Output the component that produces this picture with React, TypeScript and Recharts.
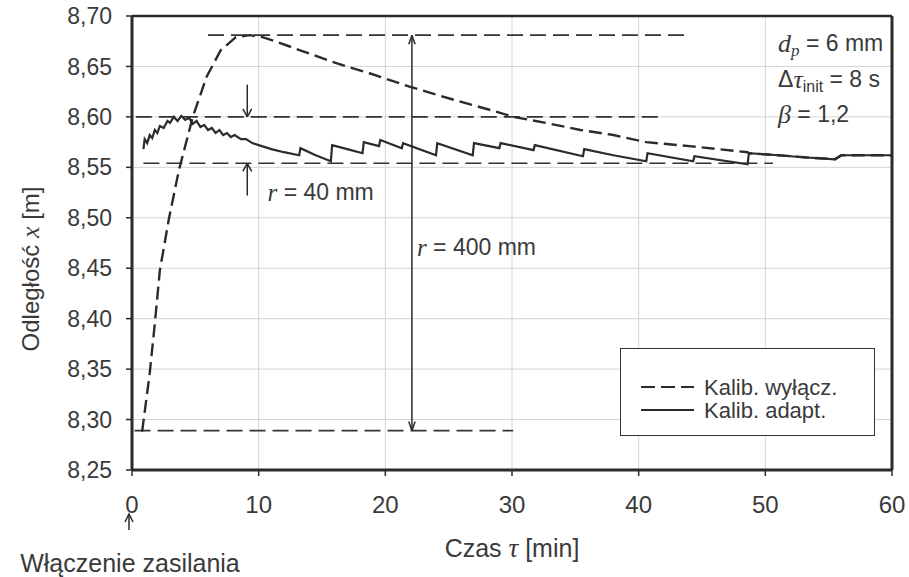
import React from "react";
import {
  CartesianGrid,
  Legend,
  Line,
  LineChart,
  ReferenceDot,
  ReferenceLine,
  XAxis,
  YAxis,
} from "recharts";

// Kalib. adapt. (solid)
const adaptTime = [
  0.9, 1.0, 1.2, 1.4, 1.6, 1.8, 2.0, 2.2, 2.5, 2.8, 3.0, 3.3, 3.6, 3.9, 4.2,
  4.5, 4.8, 5.1, 5.4, 5.7, 6.0, 6.3, 6.6, 6.9, 7.2, 7.5, 7.8, 8.1, 8.6, 9.0,
  9.5, 10.0, 10.5, 11.0, 12.0, 13.2, 13.3, 14.5, 15.7, 15.8, 17.0, 18.2, 18.3,
  19.5, 19.6, 21.3, 21.4, 24.0, 24.1, 26.9, 27.0, 29.0, 29.1, 31.7, 31.8, 35.6,
  35.7, 38.0, 40.6, 40.7, 44.3, 44.4, 48.6, 48.7, 51.0, 53.0, 55.5, 56.0, 58.0,
  60.0,
];
const adaptValue = [
  8.568, 8.578, 8.574, 8.582, 8.579, 8.587, 8.584, 8.591, 8.589, 8.596, 8.594,
  8.6, 8.596, 8.601, 8.597, 8.599, 8.593, 8.596, 8.59, 8.592, 8.587, 8.589,
  8.584, 8.587, 8.582, 8.584, 8.58, 8.582, 8.578, 8.578, 8.574, 8.572, 8.57,
  8.568, 8.565, 8.562, 8.569, 8.562, 8.556, 8.572, 8.568, 8.564, 8.575, 8.571,
  8.577, 8.569, 8.574, 8.562, 8.574, 8.562, 8.574, 8.569, 8.574, 8.567, 8.572,
  8.561, 8.568, 8.562, 8.556, 8.564, 8.556, 8.561, 8.553, 8.564, 8.562, 8.56,
  8.558, 8.562, 8.562, 8.562,
];

// Kalib. wyłącz. (dashed)
const offTime = [
  0.8, 1.4, 1.8, 2.2, 2.9, 3.7, 4.8, 5.9, 7.0, 8.2, 9.3, 10.3, 11.3, 13.5, 16.2,
  18.8, 21.9, 25.4, 28.8, 30.1, 32.7, 35.4, 38.0, 40.6, 44.0, 48.6, 48.7, 51.0,
  53.0, 55.5, 56.0, 58.0, 60.0,
];
const offValue = [
  8.288, 8.346, 8.395, 8.448, 8.498, 8.547, 8.6, 8.64, 8.666, 8.679, 8.681,
  8.679, 8.675, 8.665, 8.653, 8.643, 8.63, 8.617, 8.605, 8.6, 8.594, 8.587,
  8.582, 8.575, 8.571, 8.565, 8.564, 8.562, 8.56, 8.558, 8.562, 8.562, 8.562,
];

const xTicks = [0, 10, 20, 30, 40, 50, 60];
const yTicks = [8.25, 8.3, 8.35, 8.4, 8.45, 8.5, 8.55, 8.6, 8.65, 8.7];

// dashed helper lines [x1, x2, y]
const guideLines = [
  [6, 44, 8.681],
  [0.3, 41.8, 8.6],
  [0.9, 50.6, 8.554],
  [0.2, 30.1, 8.289],
];

// solid annotation segments [x1, y1, x2, y2]
const markSegments = [
  [22.1, 8.681, 22.1, 8.289],
  [21.85, 8.672, 22.1, 8.681],
  [22.35, 8.672, 22.1, 8.681],
  [21.85, 8.298, 22.1, 8.289],
  [22.35, 8.298, 22.1, 8.289],
  [9.1, 8.632, 9.1, 8.6],
  [8.75, 8.608, 9.1, 8.6],
  [9.45, 8.608, 9.1, 8.6],
  [9.1, 8.522, 9.1, 8.554],
  [8.75, 8.546, 9.1, 8.554],
  [9.45, 8.546, 9.1, 8.554],
];

const adaptData = adaptTime.map((t, i) => ({ t, x: adaptValue[i] }));
const offData = offTime.map((t, i) => ({ t, x: offValue[i] }));

const FONT = "'Liberation Sans', Arial, sans-serif";
const SERIF = "'Liberation Serif', serif";
const INK = "#2b2b2b";
const TXT = "#3a3a3a";

const fmt = (v: number) => v.toFixed(2).replace(".", ",");

const AnnotText = (props: any) => {
  const { viewBox, kind } = props;
  const x = viewBox.x;
  const y = viewBox.y;
  const base = { fontFamily: FONT, fontSize: 23, fill: TXT };
  if (kind === "r40" || kind === "r400") {
    return (
      <text x={x} y={y} dominantBaseline="central" {...base}>
        <tspan fontFamily={SERIF} fontStyle="italic" fontSize={25}>
          r
        </tspan>
        <tspan>{kind === "r40" ? " = 40 mm" : " = 400 mm"}</tspan>
      </text>
    );
  }
  if (kind === "dp") {
    return (
      <text x={x} y={y} dominantBaseline="central" {...base}>
        <tspan fontFamily={SERIF} fontStyle="italic" fontSize={26}>
          d
        </tspan>
        <tspan fontFamily={SERIF} fontStyle="italic" fontSize={17} dy={7}>
          p
        </tspan>
        <tspan dy={-7}> = 6 mm</tspan>
      </text>
    );
  }
  if (kind === "dt") {
    return (
      <text x={x} y={y} dominantBaseline="central" {...base}>
        <tspan>Δ</tspan>
        <tspan fontFamily={SERIF} fontStyle="italic" fontSize={26}>
          τ
        </tspan>
        <tspan fontSize={16} dy={7}>
          init
        </tspan>
        <tspan dy={-7}> = 8 s</tspan>
      </text>
    );
  }
  return (
    <text x={x} y={y} dominantBaseline="central" {...base}>
      <tspan fontFamily={SERIF} fontStyle="italic" fontSize={26}>
        β
      </tspan>
      <tspan>{"  = 1,2"}</tspan>
    </text>
  );
};

const YLabel = (props: any) => {
  const { viewBox } = props;
  const cx = 30;
  const cy = viewBox.y + viewBox.height / 2 + 26;
  return (
    <text
      x={cx}
      y={cy}
      transform={`rotate(-90 ${cx} ${cy})`}
      textAnchor="middle"
      dominantBaseline="central"
      fontFamily={FONT}
      fontSize={24}
      fill={TXT}
    >
      <tspan>Odległość </tspan>
      <tspan fontFamily={SERIF} fontStyle="italic" fontSize={26}>
        x
      </tspan>
      <tspan>{"  [m]"}</tspan>
    </text>
  );
};

const XLabel = (props: any) => {
  const { viewBox } = props;
  const x0 = viewBox.x;
  const y0 = viewBox.y;
  return (
    <g>
      <text
        x={x0 + 380}
        y={y0 + 78}
        textAnchor="middle"
        dominantBaseline="central"
        fontFamily={FONT}
        fontSize={25}
        fill={TXT}
      >
        <tspan>Czas </tspan>
        <tspan fontFamily={SERIF} fontStyle="italic" fontSize={27}>
          τ
        </tspan>
        <tspan>{"  [min]"}</tspan>
      </text>
      <line x1={x0 - 3} y1={y0 + 60} x2={x0 - 3} y2={y0 + 45} stroke={INK} strokeWidth={1.5} />
      <path
        d={`M ${x0 - 7} ${y0 + 52} L ${x0 - 3} ${y0 + 44} L ${x0 + 1} ${y0 + 52}`}
        fill="none"
        stroke={INK}
        strokeWidth={1.5}
      />
      <text
        x={x0 - 2}
        y={y0 + 93}
        textAnchor="middle"
        dominantBaseline="central"
        fontFamily={FONT}
        fontSize={25}
        fill={TXT}
      >
        Włączenie zasilania
      </text>
    </g>
  );
};

const LegendBox = () => (
  <div
    style={{
      width: 255,
      height: 88,
      border: "1.5px solid #333",
      background: "#fff",
      boxSizing: "border-box",
      position: "relative",
    }}
  >
    <svg width={255} height={88} style={{ position: "absolute", left: 0, top: 0 }}>
      <line x1={20} y1={38} x2={73} y2={38} stroke={INK} strokeWidth={2} strokeDasharray="14 6" />
      <line x1={20} y1={61} x2={73} y2={61} stroke={INK} strokeWidth={2} />
      <text x={83} y={38} dominantBaseline="central" fontFamily={FONT} fontSize={22} fill={TXT}>
        Kalib. wyłącz.
      </text>
      <text x={83} y={61} dominantBaseline="central" fontFamily={FONT} fontSize={22} fill={TXT}>
        Kalib. adapt.
      </text>
    </svg>
  </div>
);

export default function App() {
  return (
    <div style={{ position: "absolute", left: 0, top: 0, background: "#fff" }}>
      <LineChart
        width={909}
        height={577}
        margin={{ top: 16, right: 17, bottom: 0, left: 0 }}
      >
        <CartesianGrid stroke="#d4d4d4" strokeWidth={1} />
        <XAxis
          dataKey="t"
          type="number"
          domain={[0, 60]}
          ticks={xTicks}
          height={107}
          allowDataOverflow
          axisLine={{ stroke: INK, strokeWidth: 3 }}
          tickLine={{ stroke: INK, strokeWidth: 1.5 }}
          tickSize={6}
          tickMargin={20}
          tick={{ fontFamily: FONT, fontSize: 24, fill: TXT }}
          label={<XLabel />}
        />
        <YAxis
          type="number"
          domain={[8.25, 8.7]}
          ticks={yTicks}
          width={132}
          allowDataOverflow
          tickFormatter={fmt}
          axisLine={{ stroke: INK, strokeWidth: 3 }}
          tickLine={{ stroke: INK, strokeWidth: 1.5 }}
          tickSize={6}
          tickMargin={14}
          tick={{ fontFamily: FONT, fontSize: 23, fill: TXT }}
          label={<YLabel />}
        />
        <ReferenceLine y={8.7} stroke={INK} strokeWidth={2.5} />
        <ReferenceLine x={60} stroke={INK} strokeWidth={3} />
        {guideLines.map(([x1, x2, y], i) => (
          <ReferenceLine
            key={`g${i}`}
            segment={[
              { x: x1, y },
              { x: x2, y },
            ]}
            stroke="#333"
            strokeWidth={1.6}
            strokeDasharray="16 7"
          />
        ))}
        {markSegments.map(([x1, y1, x2, y2], i) => (
          <ReferenceLine
            key={`m${i}`}
            segment={[
              { x: x1, y: y1 },
              { x: x2, y: y2 },
            ]}
            stroke={INK}
            strokeWidth={1.5}
          />
        ))}
        <Line
          data={offData}
          dataKey="x"
          type="linear"
          stroke={INK}
          strokeWidth={2.4}
          strokeDasharray="13 6"
          dot={false}
          isAnimationActive={false}
          name="Kalib. wyłącz."
        />
        <Line
          data={adaptData}
          dataKey="x"
          type="linear"
          stroke={INK}
          strokeWidth={2.2}
          dot={false}
          isAnimationActive={false}
          name="Kalib. adapt."
        />
        <ReferenceDot x={10.7} y={8.526} r={0} label={<AnnotText kind="r40" />} />
        <ReferenceDot x={22.5} y={8.471} r={0} label={<AnnotText kind="r400" />} />
        <ReferenceDot x={51} y={8.673} r={0} label={<AnnotText kind="dp" />} />
        <ReferenceDot x={51} y={8.638} r={0} label={<AnnotText kind="dt" />} />
        <ReferenceDot x={51} y={8.603} r={0} label={<AnnotText kind="beta" />} />
        <Legend
          layout="horizontal"
          verticalAlign="middle"
          content={<LegendBox />}
          wrapperStyle={{ left: 620, top: 348, width: 255, height: 88 }}
        />
      </LineChart>
    </div>
  );
}
